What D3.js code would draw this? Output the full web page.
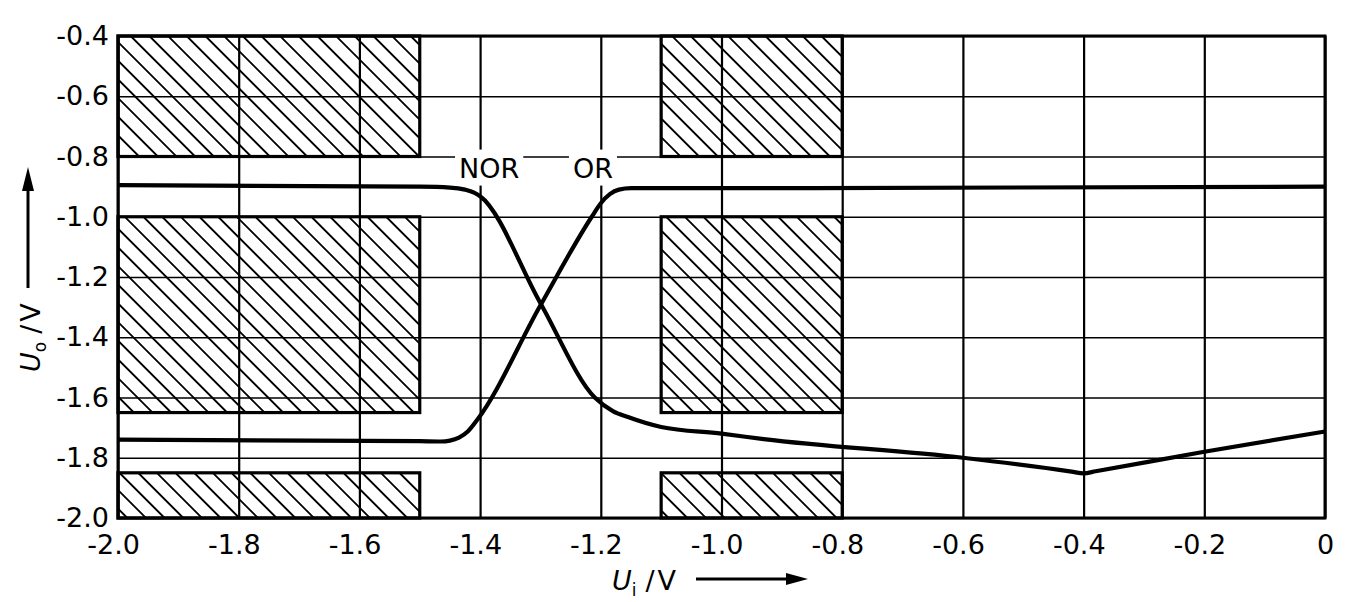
<!DOCTYPE html>
<html><head><meta charset="utf-8">
<script src="https://cdn.jsdelivr.net/npm/d3@7"></script>
<style>html,body{margin:0;background:#fff;} svg{display:block}</style>
</head><body>
<svg id="c" width="1352" height="602"></svg>
<script>
// ---- data ----
const xTicks = [-2.0,-1.8,-1.6,-1.4,-1.2,-1.0,-0.8,-0.6,-0.4,-0.2,0];
const xTickLabels = ["-2.0","-1.8","-1.6","-1.4","-1.2","-1.0","-0.8","-0.6","-0.4","-0.2","0"];
const yTicks = [-0.4,-0.6,-0.8,-1.0,-1.2,-1.4,-1.6,-1.8,-2.0];
const yTickLabels = ["-0.4","-0.6","-0.8","-1.0","-1.2","-1.4","-1.6","-1.8","-2.0"];

const norUi = [-2.0,-1.5,-1.45,-1.425,-1.41,-1.40,-1.30,-1.21,-1.18,-1.155,-1.10,-1.0,-0.93,-0.6,-0.42,-0.4,-0.38,-0.2,0];
const norUo = [-0.895,-0.90,-0.903,-0.91,-0.92,-0.932,-1.287,-1.60,-1.645,-1.665,-1.698,-1.72,-1.738,-1.80,-1.846,-1.852,-1.845,-1.78,-1.713];

const orUi = [-2.0,-1.5,-1.465,-1.45,-1.435,-1.42,-1.405,-1.30,-1.215,-1.20,-1.185,-1.17,-1.15,-1.0,0];
const orUo = [-1.74,-1.745,-1.746,-1.743,-1.733,-1.712,-1.675,-1.294,-1.0,-0.955,-0.925,-0.91,-0.905,-0.905,-0.90];

const zoneX = [[-2.0,-1.5],[-1.1,-0.8]];
const zoneY = [[-0.4,-0.8],[-1.0,-1.65],[-1.85,-2.0]];

const curveLabels = ["NOR","OR"];
const curveLabelX = [-1.385,-1.213];
const curveLabelY = [-0.87,-0.87];

// ---- drawing ----
const svg = d3.select("#c");
const x = d3.scaleLinear().domain([-2.0,0]).range([118,1325]);
const y = d3.scaleLinear().domain([-0.4,-2.0]).range([36,518]);
const W = x(0)-x(-2.0), H = y(-2.0)-y(-0.4);
const FONT = "'DejaVu Sans', sans-serif";

const defs = svg.append("defs");
const pat = defs.append("pattern").attr("id","hatch")
  .attr("patternUnits","userSpaceOnUse").attr("width",13.2).attr("height",13.2)
  .attr("patternTransform","rotate(-45)");
pat.append("line").attr("x1",0).attr("y1",-2).attr("x2",0).attr("y2",16)
  .attr("stroke","#000").attr("stroke-width",3.8);

// hatch fills
const zones = [];
zoneX.forEach(zx => zoneY.forEach(zy => zones.push([zx,zy])));
svg.append("g").selectAll("rect").data(zones).join("rect")
  .attr("x",d=>x(d[0][0])).attr("y",d=>y(d[1][0]))
  .attr("width",d=>x(d[0][1])-x(d[0][0])).attr("height",d=>y(d[1][1])-y(d[1][0]))
  .attr("fill","url(#hatch)");

// grid via axes
const gx = svg.append("g").attr("transform",`translate(0,${y(-2.0)})`)
  .call(d3.axisBottom(x).tickValues(xTicks).tickFormat((d,i)=>xTickLabels[i]).tickSize(-H).tickPadding(17));
gx.select(".domain").remove();
gx.selectAll(".tick line").attr("stroke","#000").attr("stroke-width",2.2);
gx.selectAll(".tick text").attr("font-family",FONT).attr("font-size",27).attr("fill","#000")
  .attr("dx",(d,i)=> d<0 ? "-0.18em" : 0);

const gy = svg.append("g").attr("transform",`translate(${x(-2.0)},0)`)
  .call(d3.axisLeft(y).tickValues(yTicks).tickFormat((d,i)=>yTickLabels[i]).tickSize(-W).tickPadding(9));
gy.select(".domain").remove();
gy.selectAll(".tick line").attr("stroke","#000").attr("stroke-width",1.7);
gy.selectAll(".tick text").attr("font-family",FONT).attr("font-size",27).attr("fill","#000");

// zone outlines
svg.append("g").selectAll("rect").data(zones).join("rect")
  .attr("x",d=>x(d[0][0])).attr("y",d=>y(d[1][0]))
  .attr("width",d=>x(d[0][1])-x(d[0][0])).attr("height",d=>y(d[1][1])-y(d[1][0]))
  .attr("fill","none").attr("stroke","#000").attr("stroke-width",3.2);

// frame
svg.append("rect").attr("x",x(-2.0)).attr("y",y(-0.4)).attr("width",W).attr("height",H)
  .attr("fill","none").attr("stroke","#000").attr("stroke-width",3);

// curve labels with white backgrounds
const lg = svg.append("g");
const lbls = lg.selectAll("text").data(curveLabels).join("text")
  .attr("x",(d,i)=>x(curveLabelX[i])).attr("y",(d,i)=>y(curveLabelY[i]))
  .attr("text-anchor","middle").attr("font-family",FONT).attr("font-size",27).attr("fill","#000")
  .text(d=>d);
lbls.each(function(){
  const b = this.getBBox();
  lg.insert("rect","text").attr("x",b.x-4).attr("y",b.y-3).attr("width",b.width+8).attr("height",b.height+5)
    .attr("fill","#fff");
});

// curves
const line = d3.line().x(d=>x(d[0])).y(d=>y(d[1])).curve(d3.curveMonotoneX);
const nor = norUi.map((v,i)=>[v,norUo[i]]);
const orr = orUi.map((v,i)=>[v,orUo[i]]);
svg.append("path").attr("d",line(nor)).attr("fill","none").attr("stroke","#000").attr("stroke-width",4.2).attr("stroke-linejoin","round");
svg.append("path").attr("d",line(orr)).attr("fill","none").attr("stroke","#000").attr("stroke-width",4.2).attr("stroke-linejoin","round");
lg.raise();

// axis titles
const xt = svg.append("text").attr("x",612).attr("y",590).attr("font-family",FONT).attr("font-size",27).attr("fill","#000");
xt.append("tspan").attr("font-style","italic").text("U");
xt.append("tspan").attr("font-size",17).attr("dy",6).text("i");
xt.append("tspan").attr("dy",-6).attr("dx",9).text("/");
xt.append("tspan").attr("dx",3).text("V");
svg.append("line").attr("x1",696).attr("y1",579).attr("x2",790).attr("y2",579).attr("stroke","#000").attr("stroke-width",3);
svg.append("path").attr("d","M808,579 L786,573 L786,585 Z").attr("fill","#000");

const yt = svg.append("text").attr("transform","translate(40,372) rotate(-90)")
  .attr("font-family",FONT).attr("font-size",27).attr("fill","#000");
yt.append("tspan").attr("font-style","italic").text("U");
yt.append("tspan").attr("font-size",17).attr("dy",6).text("o");
yt.append("tspan").attr("dy",-6).attr("dx",8).text("/");
yt.append("tspan").attr("dx",3).text("V");
svg.append("line").attr("x1",28).attr("y1",288).attr("x2",28).attr("y2",188).attr("stroke","#000").attr("stroke-width",3);
svg.append("path").attr("d","M28,167 L22,191 L34,191 Z").attr("fill","#000");
</script>
</body></html>
